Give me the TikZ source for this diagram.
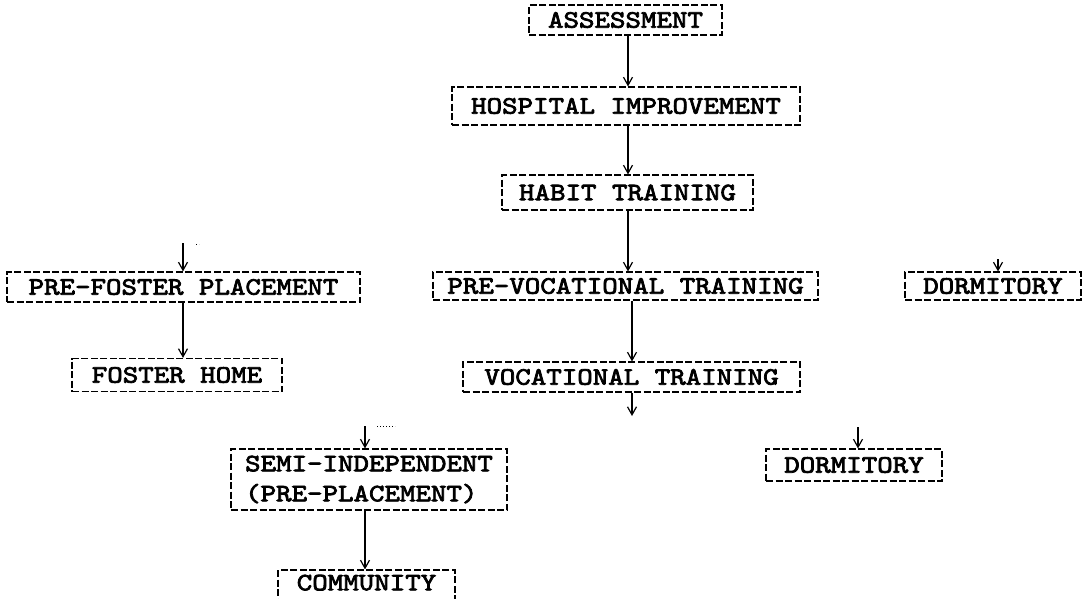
\documentclass[tikz,border=0pt]{standalone}
\usepackage{fontspec}
\usetikzlibrary{arrows.meta}
\newfontfamily\tw{lmmono10-regular.otf}[FakeStretch=1.18,FakeBold=3]
\begin{document}
\begin{tikzpicture}[x=1pt,y=-1pt,
  box/.style={draw, dash pattern=on 7pt off 2.5pt, line width=1.2pt, inner sep=0pt,
    font=\tw\fontsize{25}{30}\selectfont, text=black},
  arr/.style={-{Straight Barb[length=8pt,width=9pt]}, line width=1.2pt, solid},
  stub/.style={line width=1pt, dotted}]
\useasboundingbox[fill=white] (0,0) rectangle (1082,598);

\node[box, minimum width=193pt, minimum height=30pt] (A) at (625.5,20) {ASSESSMENT};
\node[box, minimum width=348pt, minimum height=38pt] (H) at (626,106) {HOSPITAL IMPROVEMENT};
\node[box, minimum width=251pt, minimum height=35pt] (B) at (627.5,192.5) {HABIT TRAINING};
\node[box, minimum width=385pt, minimum height=28pt] (PV) at (625.5,286) {PRE-VOCATIONAL TRAINING};
\node[box, minimum width=337pt, minimum height=30pt] (V) at (631.5,377) {VOCATIONAL TRAINING};
\node[box, minimum width=353pt, minimum height=30pt] (PF) at (183.5,287) {PRE-FOSTER PLACEMENT};
\node[box, minimum width=210pt, minimum height=33pt] (FH) at (177,375) {FOSTER HOME};
\node[box, minimum width=176pt, minimum height=28pt] (D1) at (993,286) {DORMITORY};
\node[box, minimum width=176pt, minimum height=32pt] (D2) at (854,465) {DORMITORY};
\node[box, minimum width=276pt, minimum height=61pt, align=left] (S) at (369,479.5) {SEMI-INDEPENDENT\\(PRE-PLACEMENT)};
\node[box, minimum width=177pt, minimum height=64pt, align=center] (C) at (366.5,602) {COMMUNITY\\\strut};

\coordinate (pfin) at (183,243);
\coordinate (d1in) at (998,259);
\coordinate (d2in) at (858,427);
\coordinate (sin) at (365,426);
\coordinate (vend) at (632,416);

\draw[arr] (628,0 |- A.south) -- (628,0 |- H.north);
\draw[arr] (628,0 |- H.south) -- (628,0 |- B.north);
\draw[arr] (628,0 |- B.south) -- (628,0 |- PV.north);
\draw[arr] (632,0 |- PV.south) -- (632,0 |- V.north);
\draw[arr] (632,0 |- V.south) -- (vend);
\draw[arr] (pfin) -- (pfin |- PF.north);
\draw[arr] (pfin |- PF.south) -- (pfin |- FH.north);
\draw[arr] (d1in) -- (d1in |- D1.north);
\draw[arr] (d2in) -- (d2in |- D2.north);
\draw[arr] (sin) -- (sin |- S.north);
\draw[arr] (sin |- S.south) -- (sin |- C.north);
\draw[stub] (377,426) -- (395,426);
\draw[stub] (196,244) -- (199,244);
\end{tikzpicture}
\end{document}
